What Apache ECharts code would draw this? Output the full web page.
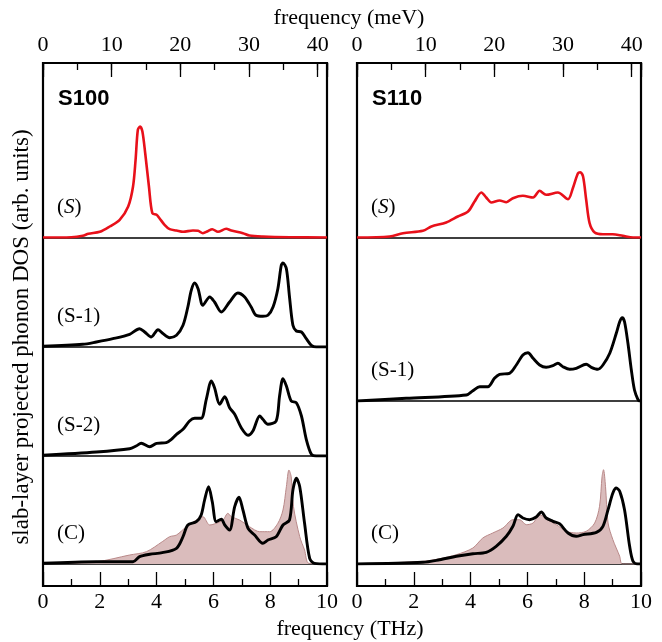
<!DOCTYPE html>
<html>
<head>
<meta charset="utf-8">
<script src="https://cdn.jsdelivr.net/npm/echarts@6/dist/echarts.min.js"></script>
<style>
  html, body { margin: 0; padding: 0; background: #fff; }
  #main { width: 662px; height: 642px; }
</style>
</head>
<body>
<div id="main"></div>
<script>
// slab-layer projected phonon DOS, [frequency (THz), DOS (arb. units)]
var s100_S = [[0,0],[1.0,0.3],[1.4,1.7],[1.6,3.7],[2.0,5.7],[2.35,11],[2.7,17.7],[3.0,31],[3.17,51],[3.26,77.7],[3.34,107.7],[3.42,111],[3.5,106],[3.6,84],[3.73,51],[3.85,24.3],[4.0,22.7],[4.1,19.3],[4.28,12.7],[4.46,8.3],[4.7,7],[4.93,5.7],[5.28,7],[5.46,6.7],[5.63,4.3],[5.8,6.3],[5.96,8.3],[6.16,5.7],[6.45,8.7],[6.63,7],[7.04,4.3],[7.27,2],[7.74,1],[8.7,0.3],[10,0]];
var s100_S1 = [[0,0.7],[1.4,2.7],[1.88,5],[2.46,8.3],[3.05,12.7],[3.4,18.3],[3.58,15],[3.81,10],[4.05,17.3],[4.2,14],[4.46,9.3],[4.7,11.7],[4.93,21.7],[5.1,40],[5.22,56.7],[5.34,64],[5.46,58.3],[5.63,41.7],[5.87,50],[6.04,45],[6.28,35],[6.57,45],[6.86,54],[7.1,50],[7.33,40],[7.5,31.7],[7.74,30.7],[7.92,31.7],[8.1,40],[8.27,58.3],[8.39,81.7],[8.45,84],[8.57,78.3],[8.68,50],[8.8,21.7],[8.92,16],[9.1,15],[9.27,8.3],[9.45,1.7],[9.62,0],[10,0]];
var s100_S2 = [[0,0.7],[1.88,4],[3.05,7.3],[3.28,10],[3.46,12.7],[3.76,9.3],[4.0,12.7],[4.34,13.3],[4.52,16.7],[4.7,21.7],[4.93,26.7],[5.16,35],[5.34,37.7],[5.57,37.7],[5.75,56.7],[5.93,75],[6.04,68.3],[6.22,51.7],[6.4,59.3],[6.57,48.3],[6.75,41.7],[6.98,28.3],[7.22,20.7],[7.39,25],[7.63,40],[7.74,36.7],[7.92,31.7],[8.21,35],[8.33,60],[8.45,77.3],[8.57,70],[8.74,55],[8.92,53.3],[9.1,40],[9.27,16.7],[9.45,1.7],[9.62,0],[10,0]];
var s100_C = [[0,0.7],[1.88,2.3],[3.17,2.3],[3.4,7.3],[3.76,9.7],[4.2,11.3],[4.7,15.7],[4.93,27.3],[5.1,39],[5.4,42.3],[5.57,49],[5.69,64],[5.83,77.3],[5.96,62.3],[6.1,42.3],[6.28,44.7],[6.4,39],[6.57,34],[6.75,57.3],[6.9,66.7],[7.04,54],[7.22,35.7],[7.45,29],[7.74,20.7],[7.92,24],[8.21,27.3],[8.45,39],[8.68,44],[8.8,74],[8.92,85.7],[9.04,77.3],[9.21,40.7],[9.39,5.7],[9.56,0.7],[10,0]];
var s100_bulk = [[0,0.7],[1.88,2.3],[3.05,9],[3.64,12.3],[4.2,22.3],[4.46,27.3],[4.7,29],[5.05,37.3],[5.4,44],[5.63,47.3],[5.87,39],[6.1,40.7],[6.34,44],[6.51,50.7],[6.63,47.3],[6.92,44],[7.27,37.3],[7.63,32.3],[7.98,32.3],[8.27,40.7],[8.45,54],[8.57,77.3],[8.66,94],[8.74,87.3],[8.82,57.3],[9.04,27.3],[9.21,14],[9.36,0.7],[10,0]];

var s110_S = [[0,0],[1.15,1],[1.62,4.3],[2.32,6.7],[2.62,11],[3.14,15],[3.55,21],[3.91,26],[4.14,36],[4.38,45],[4.55,40],[4.73,35],[5.02,37],[5.26,35.3],[5.49,39.3],[5.84,41.7],[6.2,40],[6.43,46.7],[6.66,42.7],[7.07,45],[7.43,38.3],[7.6,49.3],[7.78,64.3],[7.86,65.3],[7.96,61],[8.07,37.7],[8.19,14.3],[8.37,5],[8.66,3.3],[9.0,3.3],[9.36,1.7],[9.72,0],[10,0]];
var s110_S1 = [[0,0],[1.73,2.7],[3.85,6],[4.08,10.3],[4.32,14.3],[4.61,14.3],[4.84,22.7],[5.02,26.7],[5.37,27.7],[5.61,36],[5.84,46],[6.02,48.3],[6.2,42.7],[6.43,36],[6.66,33.7],[6.9,35.3],[7.07,37.7],[7.25,34.3],[7.49,31.7],[7.72,32.7],[8.07,36.7],[8.25,33.7],[8.48,31.7],[8.66,36],[8.9,47.7],[9.13,67.7],[9.25,79.3],[9.34,83.3],[9.42,79.3],[9.54,57.7],[9.66,31],[9.77,11],[9.89,1.7],[9.95,0],[10,0]];
var s110_C = [[0,0],[2.32,1.7],[2.91,4.3],[3.5,7.7],[4.08,10.3],[4.55,11.7],[4.9,17.7],[5.26,27.7],[5.49,37.7],[5.67,49.3],[5.84,46],[6.08,44.3],[6.31,47],[6.49,52],[6.66,46],[6.9,42.7],[7.13,40.3],[7.43,31],[7.72,27.7],[7.96,29.3],[8.43,31.7],[8.66,37.7],[8.84,54.3],[9.01,71],[9.13,76],[9.25,72.7],[9.42,54.3],[9.6,17.7],[9.72,2.7],[9.89,0],[10,0]];
var s110_bulk = [[0,0],[2.32,2.7],[2.91,5.3],[3.5,9.3],[4.08,16],[4.43,26],[4.78,31],[5.14,36],[5.49,44.3],[5.73,44.3],[5.96,39.3],[6.2,41],[6.43,49.3],[6.66,45],[7.02,39.3],[7.37,32.7],[7.72,31],[8.07,32.7],[8.37,41],[8.54,57.7],[8.63,87.7],[8.68,94.3],[8.75,77.7],[8.84,41],[9.01,24.3],[9.25,7.7],[9.34,0],[10,0]];

var thzTicks = [0, 2, 4, 6, 8, 10];
var mevTicks = [0, 10, 20, 30, 40];
var THZ_TO_MEV = 4.13567;

var serif = '"Liberation Serif", "DejaVu Serif", serif';
var chart = echarts.init(document.getElementById('main'));

// panel layout
var panels = [
  { left: 43, name: 'S100', bounds: [63, 237.5, 347, 456, 564],
    curves: [
      { data: s100_S, color: '#e8101a', label: 'S' },
      { data: s100_S1, color: '#000', label: 'S-1' },
      { data: s100_S2, color: '#000', label: 'S-2' },
      { data: s100_C, color: '#000', label: 'C', bulk: s100_bulk }
    ] },
  { left: 357, name: 'S110', bounds: [63, 237.5, 401, 564],
    curves: [
      { data: s110_S, color: '#e8101a', label: 'S' },
      { data: s110_S1, color: '#000', label: 'S-1' },
      { data: s110_C, color: '#000', label: 'C', bulk: s110_bulk }
    ] }
];
var panelW = 284, frameTop = 63, frameBottom = 586;

var grid = [], xAxis = [], yAxis = [], series = [], graphic = [];

panels.forEach(function (p) {
  // frame grid with THz axis at bottom and meV axis at top
  var g = grid.length;
  grid.push({ left: p.left, top: frameTop, width: panelW, height: frameBottom - frameTop,
    show: true, borderColor: '#000', borderWidth: 2.2, backgroundColor: 'transparent' });
  xAxis.push({
    type: 'value', gridIndex: g, position: 'bottom', min: 0, max: 10, interval: 2,
    axisLine: { show: false },
    axisTick: { inside: true, length: 14, lineStyle: { color: '#000', width: 1.3 } },
    minorTick: { show: true, splitNumber: 2, length: 7, lineStyle: { color: '#000', width: 1.3 } },
    splitLine: { show: false },
    axisLabel: { margin: 5, color: '#000', fontFamily: serif, fontSize: 22,
      formatter: function (v) { return thzTicks.indexOf(v) >= 0 ? String(v) : ''; } }
  });
  xAxis.push({
    type: 'value', gridIndex: g, position: 'top', min: 0, max: 10 * THZ_TO_MEV, interval: 10,
    axisLine: { show: false },
    axisTick: { inside: true, length: 14, lineStyle: { color: '#000', width: 1.3 } },
    splitLine: { show: false }, showMaxLabel: false,
    axisLabel: { margin: 7, color: '#000', fontFamily: serif, fontSize: 22,
      formatter: function (v) { return mevTicks.indexOf(v) >= 0 ? String(v) : ''; } }
  });
  xAxis.push({
    type: 'value', gridIndex: g, position: 'top', min: 0, max: 10 * THZ_TO_MEV, interval: 5,
    axisLine: { show: false },
    axisTick: { inside: true, length: 7, lineStyle: { color: '#000', width: 1.3 } },
    splitLine: { show: false }, axisLabel: { show: false }
  });
  yAxis.push({ type: 'value', gridIndex: g, show: false, min: 0, max: 1 });

  // stacked sub-plots
  p.curves.forEach(function (c, i) {
    var top = p.bounds[i], h = p.bounds[i + 1] - p.bounds[i];
    var gi = grid.length;
    grid.push({ left: p.left, top: top, width: panelW, height: h });
    var xi = xAxis.length, yi = yAxis.length;
    xAxis.push({ type: 'value', gridIndex: gi, min: 0, max: 10, position: 'bottom',
      axisLine: { show: true, onZero: false, lineStyle: { color: '#000', width: 1.5 } },
      axisTick: { show: false }, axisLabel: { show: false }, splitLine: { show: false } });
    yAxis.push({ type: 'value', gridIndex: gi, min: 0, max: h, show: false });
    if (c.bulk) {
      series.push({ type: 'line', xAxisIndex: xi, yAxisIndex: yi, data: c.bulk,
        smooth: 0.3, showSymbol: false, z: 2,
        lineStyle: { color: '#b98989', width: 1 },
        areaStyle: { color: '#dabcbc', opacity: 1 } });
    }
    series.push({ type: 'line', xAxisIndex: xi, yAxisIndex: yi, data: c.data,
      smooth: 0.3, showSymbol: false, z: 3,
      lineStyle: { color: c.color, width: c.color === '#000' ? 2.9 : 2.6 } });

    // layer label, e.g. (S-1)
    var labelY = top + h - (i === 0 ? 30 : 31);
    var txt = c.label === 'S' ? '{n|(}{i|S}{n|)}' : '{n|(' + c.label + ')}';
    graphic.push({ type: 'text', x: p.left + 14, y: labelY,
      style: { text: txt, verticalAlign: 'middle', fill: '#000',
        rich: { n: { fontFamily: serif, fontSize: 21, fill: '#000' },
                i: { fontFamily: serif, fontSize: 21, fontStyle: 'italic', fill: '#000' } } } });
  });

  graphic.push({ type: 'text', x: p.left + 15, y: 99,
    style: { text: p.name, font: 'bold 22px "Liberation Sans", Arial, sans-serif',
      fill: '#000', verticalAlign: 'middle' } });
});

graphic.push({ type: 'text', x: 349, y: 18,
  style: { text: 'frequency (meV)', font: '22px ' + serif, fill: '#000',
    align: 'center', verticalAlign: 'middle' } });
graphic.push({ type: 'text', x: 350, y: 629,
  style: { text: 'frequency (THz)', font: '22px ' + serif, fill: '#000',
    align: 'center', verticalAlign: 'middle' } });
graphic.push({ type: 'text', x: 22, y: 337, rotation: Math.PI / 2,
  style: { text: 'slab-layer projected phonon DOS (arb. units)', font: '23px ' + serif,
    fill: '#000', align: 'center', verticalAlign: 'middle' } });

chart.setOption({
  animation: false,
  grid: grid,
  xAxis: xAxis,
  yAxis: yAxis,
  series: series,
  graphic: graphic
});
</script>
</body>
</html>
